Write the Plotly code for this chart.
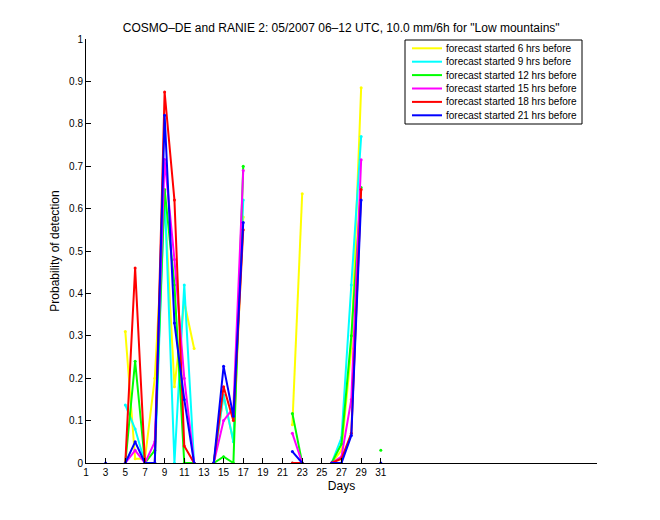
import plotly.graph_objects as go

N = None
days = list(range(1, 32))

# values per day 1..31 (None = no data)
pod_6h = [N, N, N, N, 0.31, 0.01, 0.01, 0.20, 0.62, 0.18, 0.38, 0.27, N, 0.0, 0.16, 0.05, 0.58,
          N, N, N, N, 0.09, 0.635, N, N, 0.0, 0.03, 0.27, 0.885, N, N]
pod_9h = [N, N, N, N, 0.137, 0.08, 0.0, 0.0, 0.64, 0.0, 0.42, 0.0, N, 0.0, 0.16, 0.05, 0.62,
          N, N, N, N, 0.0, 0.0, N, N, 0.0, 0.06, 0.42, 0.77, N, N]
pod_12h = [N, N, N, N, 0.0, 0.24, 0.0, 0.03, 0.645, 0.42, 0.0, 0.0, N, 0.0, 0.015, 0.0, 0.70,
           N, N, N, N, 0.117, 0.0, N, N, 0.0, 0.045, 0.30, 0.65, N, 0.03]
pod_15h = [N, N, N, N, 0.0, 0.03, 0.0, 0.05, 0.716, 0.48, 0.20, 0.0, N, 0.0, 0.10, 0.13, 0.69,
           N, N, N, N, 0.07, 0.0, N, N, 0.0, 0.015, 0.15, 0.715, N, N]
pod_18h = [N, N, N, N, 0.0, 0.46, 0.0, 0.0, 0.875, 0.62, 0.04, 0.0, N, 0.0, 0.18, 0.10, 0.55,
           N, N, N, N, 0.0, 0.0, N, N, 0.0, 0.01, 0.07, 0.645, N, N]
pod_21h = [N, N, 0.0, N, 0.0, 0.05, 0.0, 0.0, 0.82, 0.33, 0.15, 0.0, N, 0.0, 0.228, 0.11, 0.567,
           N, N, N, N, 0.027, 0.0, N, N, 0.0, 0.0, 0.065, 0.62, N, 0.0]

series_names = ["forecast started 6 hrs before", "forecast started 9 hrs before",
                "forecast started 12 hrs before", "forecast started 15 hrs before",
                "forecast started 18 hrs before", "forecast started 21 hrs before"]
series_values = [pod_6h, pod_9h, pod_12h, pod_15h, pod_18h, pod_21h]
series_colors = ["#ffff00", "#00ffff", "#00ff00", "#ff00ff", "#ff0000", "#0000ff"]

x_ticks = list(range(1, 32, 2))
y_ticks = [0, 0.1, 0.2, 0.3, 0.4, 0.5, 0.6, 0.7, 0.8, 0.9, 1]
y_ticklabels = ["0", "0.1", "0.2", "0.3", "0.4", "0.5", "0.6", "0.7", "0.8", "0.9", "1"]

fig = go.Figure()
for name, vals, col in zip(series_names, series_values, series_colors):
    fig.add_trace(go.Scatter(
        x=days, y=vals, name=name, mode="lines+markers",
        line=dict(color=col, width=2), marker=dict(color=col, size=3),
        connectgaps=False, showlegend=False,
    ))

font_family = "Liberation Sans, Arial, Helvetica, sans-serif"

# compact MATLAB-style legend box (paper coordinates)
L, R, T, B = 86, 597, 39, 463
def px_x(p):
    return (p - L) / (R - L)
def px_y(p):
    return (B - p) / (B - T)

shapes = [dict(type="rect", xref="paper", yref="paper",
               x0=px_x(405), x1=px_x(582), y0=px_y(124), y1=px_y(40),
               line=dict(color="black", width=1), fillcolor="white", layer="above")]
annotations = []
for i, (name, col) in enumerate(zip(series_names, series_colors)):
    ypx = 48.3 + 13.4 * i
    shapes.append(dict(type="line", xref="paper", yref="paper",
                       x0=px_x(412), x1=px_x(442), y0=px_y(ypx), y1=px_y(ypx),
                       line=dict(color=col, width=2), layer="above"))
    annotations.append(dict(xref="paper", yref="paper", x=px_x(444), y=px_y(ypx),
                            xanchor="left", yanchor="middle", text=name, showarrow=False,
                            font=dict(size=10, family=font_family, color="black")))

fig.update_layout(
    width=660, height=520,
    margin=dict(l=86, r=63, t=39, b=57),
    paper_bgcolor="white", plot_bgcolor="white",
    font=dict(family=font_family, size=10, color="black"),
    title=dict(text='COSMO\u2013DE and RANIE 2: 05/2007 06\u201312 UTC, 10.0 mm/6h for "Low mountains"',
               x=0.517, xanchor="center", y=0.947, yanchor="middle",
               font=dict(size=12, family=font_family, color="black")),
    showlegend=False,
    shapes=shapes,
    annotations=annotations,
    xaxis=dict(range=[1, 53], tickmode="array", tickvals=x_ticks,
               ticktext=[str(t) for t in x_ticks],
               ticks="inside", ticklen=5, tickcolor="black", showline=True,
               linecolor="black", linewidth=1, mirror=False, showgrid=False,
               zeroline=False, title=dict(text="Days", font=dict(size=12), standoff=4),
               tickfont=dict(size=10)),
    yaxis=dict(range=[0, 1], tickmode="array", tickvals=y_ticks, ticktext=y_ticklabels,
               ticks="inside", ticklen=5, tickcolor="black", showline=True,
               linecolor="black", linewidth=1, mirror=False, showgrid=False,
               zeroline=False, title=dict(text="Probability of detection", font=dict(size=12), standoff=6),
               tickfont=dict(size=10)),
)

fig.write_html("out.html")
